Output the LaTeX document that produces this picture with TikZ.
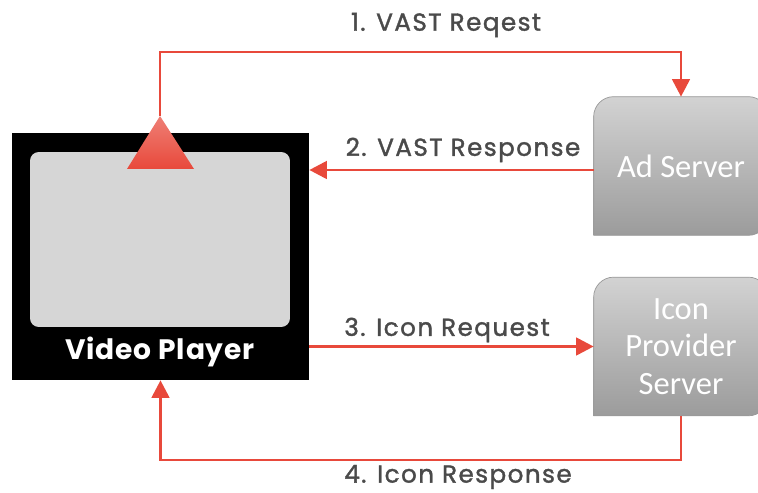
\documentclass[tikz,border=0pt]{standalone}
\usepackage{fontspec}
\setmainfont{Poppins}
\newfontfamily\serverfont{Carlito}
\newfontfamily\labelfont[FakeBold=1.5, LetterSpace=6]{Poppins}
\newfontfamily\playerfont[LetterSpace=3]{Poppins Bold}
\usetikzlibrary{arrows.meta}
\usetikzlibrary{positioning}
\definecolor{flowred}{HTML}{E8493B}
\definecolor{labelgray}{HTML}{4A4A4A}
\definecolor{screengray}{HTML}{D6D6D6}

\begin{document}
\begin{tikzpicture}[
    x=0.02cm, y=-0.02cm,
    flow/.style={
        draw=flowred,
        line width=1.7pt,
        -{Triangle[length=10pt, width=10pt]}
    },
    steplabel/.style={
        text=labelgray,
        font=\labelfont\fontsize{14}{16}\selectfont
    },
    server/.style={
        minimum width=3.48cm,
        minimum height=2.76cm,
        align=center,
        text=white,
        font=\serverfont\fontsize{18.5}{21.5}\selectfont
    },
    serverbody/.style={
        top color=gray!35,
        bottom color=gray!78,
        draw=gray!80,
        line width=0.4pt
    }
]
    \useasboundingbox (0,0) rectangle (758,493);

    % reproductor
    \node (player) [fill=black, minimum width=5.94cm, minimum height=4.94cm] at (160.5,256.5) {};
    \node (screen) [fill=screengray, rounded corners=5pt, minimum width=5.2cm, minimum height=3.5cm] at (160,239.5) {};
    \node (playerlabel) [text=white, font=\playerfont\fontsize{16}{18}\selectfont] at (160,352) {Video Player};

    % servidores
    \node (ad) [server] at (681,166) {};
    \node (icon) [server] at (681,346.5) {};
    \path[serverbody] (ad.north east) [rounded corners=0.4cm] -- (ad.south east) [sharp corners] -- (ad.south west) [rounded corners=0.4cm] -- (ad.north west) -- cycle;
    \path[serverbody] (icon.north east) [rounded corners=0.4cm] -- (icon.south east) [sharp corners] -- (icon.south west) [rounded corners=0.4cm] -- (icon.north west) -- cycle;
    \node (adtext) [server] at (ad) {Ad Server};
    \node (icontext) [server] at (icon) {Icon\\Provider\\Server};

    % rieles
    \coordinate (tip) at (160,116);
    \coordinate (toprail) at (0,52);
    \coordinate (bottomrail) at (0,460);

    % conexiones con flechas
    \draw [flow] (tip) -- (tip |- toprail) -| (ad.north);
    \draw [flow] (ad.west |- 0,170) -- (player.east |- 0,170);
    \draw [flow] (player.east |- icon.west) -- (icon.west);
    \draw [flow] (icon.south) -- (icon.south |- bottomrail) -| (player.south);

    % triangulo
    \shade[top color=flowred!70, bottom color=flowred] (tip) -- (194,169) -- (127,169) -- cycle;

    % etiquetas
    \node (req) [steplabel] at (446,25) {1. VAST Reqest};
    \node (resp) [steplabel] at (463,150) {2. VAST Response};
    \node (iconreq) [steplabel] at (447,330) {3. Icon Request};
    \node (iconresp) [steplabel] at (458,477) {4. Icon Response};
\end{tikzpicture}
\end{document}
